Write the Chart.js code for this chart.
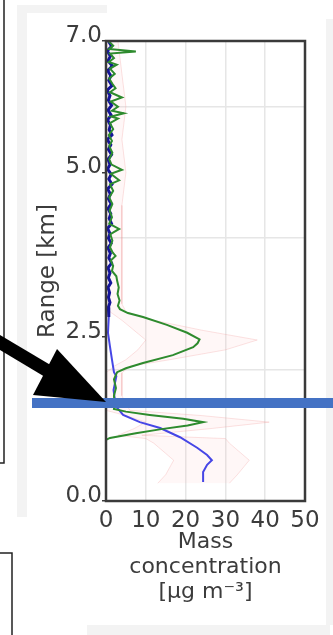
<!DOCTYPE html>
<html>
<head>
<meta charset="utf-8">
<script src="https://cdn.jsdelivr.net/npm/chart.js@4.4.0/dist/chart.umd.min.js"></script>
<style>
html, body { margin: 0; padding: 0; background: #fff; }
#wrap { position: relative; width: 333px; height: 635px; }
</style>
</head>
<body>
<div id="wrap"><canvas id="massChart" width="333" height="635"></canvas></div>
<script>
// Mass concentration profile (range in km vs ug/m3)
const xTicks = [0, 10, 20, 30, 40, 50];
const yTickLabels = [0, 2.5, 5, 7];
const yGridKm = [2, 4, 6];

const greenKm = [7.00, 6.93, 6.88, 6.84, 6.81, 6.74, 6.68, 6.64, 6.58, 6.50, 6.43, 6.35, 6.28, 6.22, 6.14, 6.08,
    6.00, 5.94, 5.90, 5.85, 5.82, 5.75, 5.66, 5.57, 5.48, 5.40, 5.30, 5.20, 5.12, 5.04, 4.98, 4.88, 4.82, 4.72,
    4.62, 4.52, 4.42, 4.32, 4.22, 4.14, 4.06, 3.96, 3.86, 3.78, 3.73, 3.66, 3.58, 3.50, 3.42, 3.35, 3.25, 3.15,
    3.05, 2.97, 2.92, 2.86, 2.80, 2.68, 2.56, 2.46, 2.40, 2.34, 2.22, 2.10, 2.02, 1.96, 1.85, 1.72, 1.60, 1.48,
    1.40, 1.36, 1.31, 1.25, 1.20, 1.15, 1.09, 1.03, 0.96, 0.93];
const greenVal = [0.6, 1.8, 0.8, 7.5, 1.0, 2.0, 0.7, 2.7, 1.0, 2.2, 0.8, 1.6, 2.4, 1.0, 4.0, 1.2,
    3.0, 1.5, 4.5, 1.3, 3.0, 1.0, 1.8, 0.7, 1.5, 0.8, 1.6, 0.8, 1.4, 4.0, 1.2, 3.3, 1.0, 1.8,
    0.8, 1.6, 0.9, 1.5, 0.8, 3.3, 1.1, 1.6, 1.0, 1.7, 2.4, 1.2, 1.8, 1.5, 2.6, 2.8, 3.2, 2.9,
    3.4, 3.0, 3.5, 5.5, 9.3, 15.3, 20.4, 23.5, 23.0, 21.9, 16.8, 9.3, 5.0, 2.8, 2.0, 2.5, 2.0, 2.2,
    2.0, 5.0, 11.0, 19.4, 24.4, 20.5, 13.5, 7.5, 1.0, 0.0];

const blueKm = [7.00, 6.92, 6.85, 6.77, 6.70, 6.62, 6.55, 6.47, 6.40, 6.32, 6.25, 6.17, 6.10, 6.02, 5.95, 5.87,
    5.80, 5.72, 5.65, 5.57, 5.50, 5.42, 5.35, 5.27, 5.20, 5.12, 5.05, 4.97, 4.90, 4.82, 4.75, 4.67, 4.60, 4.52,
    4.45, 4.37, 4.30, 4.22, 4.15, 4.07, 4.00, 3.92, 3.85, 3.77, 3.70, 3.62, 3.55, 3.47, 3.40, 3.32, 3.25, 3.17,
    3.10, 3.02, 2.95, 2.80, 2.56, 2.35, 2.15, 1.96, 1.90, 1.84, 1.69, 1.55, 1.42, 1.31, 1.20, 1.11, 0.97, 0.81,
    0.70, 0.62, 0.55, 0.44, 0.29];
const blueVal = [0.6, 1.4, 0.3, 1.1, 0.5, 1.6, 0.4, 1.2, 0.7, 1.5, 0.3, 1.0, 0.6, 1.4, 0.5, 1.3,
    0.4, 1.1, 0.8, 1.5, 0.3, 1.2, 0.6, 1.4, 0.5, 1.0, 0.4, 1.3, 0.7, 1.5, 0.4, 1.1, 0.6, 1.3,
    0.5, 1.2, 0.8, 1.4, 0.4, 1.0, 0.6, 1.3, 0.5, 1.1, 0.7, 1.4, 0.5, 1.0, 0.6, 1.2, 0.5, 0.9,
    0.6, 1.0, 0.6, 0.7, 0.5, 1.0, 1.5, 2.0, 2.6, 2.4, 1.9, 2.2, 2.8, 4.3, 8.5, 13.6, 18.6, 22.9,
    25.4, 26.6, 25.4, 24.4, 24.4];

const bandKm = [7.00, 6.50, 6.00, 5.50, 5.00, 4.50, 4.00, 3.50, 3.00, 2.88, 2.75, 2.60, 2.45, 2.30, 2.15, 2.05,
    1.95, 1.60, 1.38, 1.30, 1.20, 1.10, 1.00, 0.95, 0.88, 0.62, 0.40, 0.27];
const bandLo = [0, 0, 0, 0, 0, 0, 0, 0, 0, 1, 4, 7, 10, 8, 5, 2,
    0, 0, 0, 5, 10, 7, 3, 10, 12, 17, 15, 13];
const bandHi = [3, 4, 5, 4, 5, 4, 4, 4, 4, 5, 12, 24, 38, 30, 16, 6,
    4, 4, 6, 24, 41, 26, 9, 30, 31, 36, 33, 31];

const markerKm = 1.49;

function toPoints(km, vals) {
    return km.map((k, i) => ({ x: vals[i], y: k }));
}

const decorPlugin = {
    id: 'decor',
    beforeDraw(chart) {
        const c = chart.ctx;
        c.save();
        c.fillStyle = '#f3f3f3';
        c.fillRect(17, 5, 90, 8);
        c.fillRect(17, 5, 10, 512);
        c.fillRect(326, 19, 7, 606);
        c.fillRect(87, 625, 243, 10);
        c.restore();
    },
    afterDraw(chart) {
        const c = chart.ctx;
        const a = chart.chartArea;
        const my = chart.scales.y.getPixelForValue(markerKm);
        c.save();
        // axes frame
        c.strokeStyle = '#3a3a3a';
        c.lineWidth = 2.5;
        c.strokeRect(a.left, a.top, a.right - a.left, a.bottom - a.top);

        // neighbouring panel borders
        c.strokeStyle = '#222';
        c.lineWidth = 1.5;
        c.beginPath();
        c.moveTo(4, 0); c.lineTo(4, 463); c.lineTo(0, 463);
        c.moveTo(0, 553); c.lineTo(12, 553); c.lineTo(12, 635);
        c.stroke();

        // highlighted level
        c.strokeStyle = '#4472c4';
        c.lineWidth = 10;
        c.beginPath();
        c.moveTo(32, my); c.lineTo(333, my);
        c.stroke();

        // arrow pointing at it
        const tx = a.left, ty = my - 1;
        c.strokeStyle = '#000';
        c.lineWidth = 13;
        c.beginPath();
        c.moveTo(tx - 110, ty - 62);
        c.lineTo(tx - 58, ty - 31);
        c.stroke();
        c.fillStyle = '#000';
        c.beginPath();
        c.moveTo(tx, ty);
        c.lineTo(tx - 49, ty - 53);
        c.lineTo(tx - 73, ty - 7);
        c.closePath();
        c.fill();
        c.restore();
    }
};

Chart.defaults.font.family = "'DejaVu Sans', sans-serif";

const ctx = document.getElementById('massChart').getContext('2d');
new Chart(ctx, {
    type: 'line',
    data: {
        datasets: [
            {
                data: toPoints(greenKm, greenVal),
                borderColor: '#2e8b2e',
                borderWidth: 2,
                pointRadius: 0,
                fill: false
            },
            {
                data: toPoints(blueKm, blueVal),
                borderColor: '#4646e6',
                borderWidth: 2,
                pointRadius: 0,
                fill: false,
                segment: {
                    borderColor: s => s.p0.parsed.y > 2.9 ? '#15159a' : '#4646e6',
                    borderWidth: s => s.p0.parsed.y > 2.9 ? 3 : 2
                }
            },
            {
                data: toPoints(bandKm, bandHi),
                borderColor: 'rgba(240, 150, 150, 0.28)',
                backgroundColor: 'rgba(255, 170, 170, 0.09)',
                borderWidth: 1,
                pointRadius: 0,
                fill: '+1'
            },
            {
                data: toPoints(bandKm, bandLo),
                borderColor: 'rgba(240, 150, 150, 0.28)',
                borderWidth: 1,
                pointRadius: 0,
                fill: false
            }
        ]
    },
    options: {
        indexAxis: 'y',
        responsive: false,
        animation: false,
        layout: { padding: { top: 41, right: 28, left: 0, bottom: 0 } },
        plugins: {
            legend: { display: false },
            tooltip: { enabled: false }
        },
        scales: {
            x: {
                type: 'linear',
                min: 0,
                max: 50,
                afterBuildTicks: scale => { scale.ticks = xTicks.map(v => ({ value: v })); },
                afterFit: scale => { scale.height = 134; },
                border: { display: false },
                grid: {
                    color: c => (c.tick.value === 0 || c.tick.value === 50) ? 'transparent' : '#e6e6e6',
                    lineWidth: 1.5,
                    drawTicks: false
                },
                ticks: {
                    autoSkip: false,
                    maxRotation: 0,
                    padding: 6,
                    color: '#3c3c3c',
                    font: { size: 23 }
                },
                title: {
                    display: true,
                    text: ['Mass', 'concentration', '[\u03bcg m\u207b\u00b3]'],
                    color: '#3c3c3c',
                    font: { size: 22, lineHeight: '25px' },
                    padding: { top: 0, bottom: 30 }
                }
            },
            y: {
                type: 'linear',
                min: 0,
                max: 7,
                afterBuildTicks: scale => {
                    scale.ticks = [0, 2, 2.5, 4, 5, 6, 7].map(v => ({ value: v }));
                },
                afterFit: scale => { scale.width = 106; },
                border: { display: false },
                grid: {
                    color: c => yGridKm.includes(c.tick.value) ? '#e6e6e6' : 'transparent',
                    tickColor: c => yTickLabels.includes(c.tick.value) ? '#3a3a3a' : 'transparent',
                    lineWidth: 1.5,
                    drawTicks: true,
                    tickLength: 4
                },
                ticks: {
                    autoSkip: false,
                    padding: 0,
                    labelOffset: -5,
                    color: '#3c3c3c',
                    font: { size: 23 },
                    callback: v => yTickLabels.includes(v) ? v.toFixed(1) : ''
                },
                title: {
                    display: true,
                    text: 'Range [km]',
                    color: '#3c3c3c',
                    font: { size: 23 },
                    padding: { top: 34, bottom: 0 }
                }
            }
        }
    },
    plugins: [decorPlugin]
});
</script>
</body>
</html>
